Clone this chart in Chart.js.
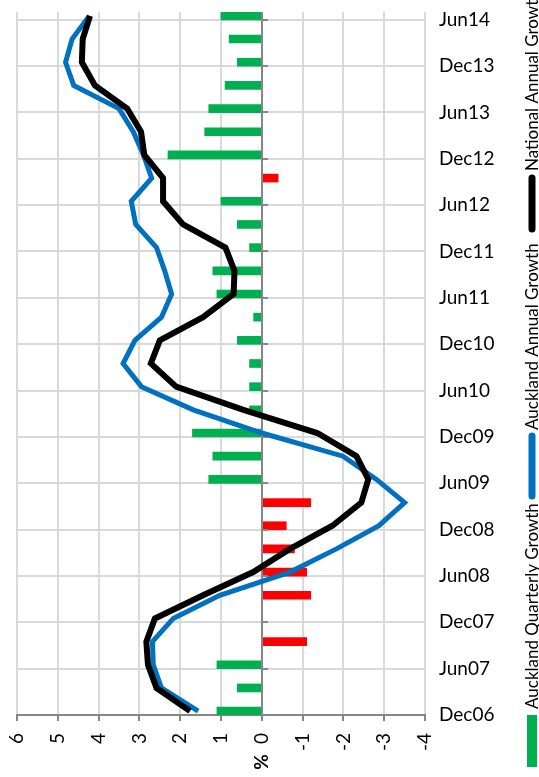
<!DOCTYPE html>
<html>
<head>
<meta charset="utf-8">
<script src="https://cdn.jsdelivr.net/npm/chart.js@4.4.1/dist/chart.umd.min.js"></script>
<style>
  html, body { margin: 0; padding: 0; background: #fff; }
  #chart1 { display: block; }
</style>
</head>
<body>
<canvas id="chart1" width="539" height="777"></canvas>
<script>
// quarterly data, Dec06 .. Jun14
const quarters = ['Dec06','Mar07','Jun07','Sep07','Dec07','Mar08','Jun08','Sep08','Dec08','Mar09',
  'Jun09','Sep09','Dec09','Mar10','Jun10','Sep10','Dec10','Mar11','Jun11','Sep11','Dec11','Mar12',
  'Jun12','Sep12','Dec12','Mar13','Jun13','Sep13','Dec13','Mar14','Jun14'];

const aucklandQuarterly = [1.1, 0.6, 1.1, -1.1, 0, -1.2, -1.1, -0.8, -0.6, -1.2,
  1.3, 1.2, 1.7, 0.3, 0.3, 0.3, 0.6, 0.2, 1.1, 1.2, 0.3, 0.6,
  1.0, -0.4, 2.3, 1.4, 1.3, 0.9, 0.6, 0.8, 1.0];

const aucklandAnnual = [1.56, 2.46, 2.66, 2.68, 2.17, 1.03, -0.69, -1.83, -2.87, -3.5,
  -2.81, -1.99, 0.0, 1.68, 2.95, 3.4, 3.11, 2.46, 2.21, 2.38, 2.58, 3.09,
  3.2, 2.7, 2.9, 3.15, 3.5, 4.61, 4.81, 4.65, 4.23];

const nationalAnnual = [1.76, 2.58, 2.79, 2.83, 2.62, 1.44, 0.21, -0.69, -1.73, -2.44,
  -2.61, -2.32, -1.36, 0.45, 2.1, 2.72, 2.5, 1.44, 0.69, 0.67, 0.89, 1.93,
  2.42, 2.42, 2.88, 2.96, 3.3, 4.09, 4.41, 4.39, 4.21];

// axis labels every six months
const dateLabels = ['Dec06','Jun07','Dec07','Jun08','Dec08','Jun09','Dec09','Jun10',
  'Dec10','Jun11','Dec11','Jun12','Dec12','Jun13','Dec13','Jun14'];

const seriesNames = ['Auckland Quarterly Growth', 'Auckland Annual Growth', 'National Annual Growth'];

const FONT = 'Lato, "Liberation Sans", sans-serif';

// date axis counted in months from Dec06, each quarter sits in the middle of its month
function monthOf(label) {
  const mon = {Mar: 3, Jun: 6, Sep: 9, Dec: 12}[label.slice(0, 3)];
  const yr = 2000 + parseInt(label.slice(3), 10);
  return (yr - 2006) * 12 + mon - 12;
}
const toPoints = vals => vals.map((v, i) => ({x: v, y: monthOf(quarters[i]) + 0.5}));

// zero axis with its tick marks sits on top of the bars but under the lines
const zeroAxis = {
  id: 'zeroAxis',
  afterDatasetDraw(chart, args) {
    if (args.meta.type !== 'bar') return;
    const {ctx, chartArea, scales: {x, y}} = chart;
    const x0 = Math.round(x.getPixelForValue(0));
    ctx.save();
    ctx.strokeStyle = '#868686';
    ctx.lineWidth = 2;
    ctx.beginPath();
    ctx.moveTo(x0, chartArea.top);
    ctx.lineTo(x0, chartArea.bottom);
    y.ticks.forEach(t => {
      const py = Math.round(y.getPixelForValue(t.value));
      ctx.moveTo(x0, py);
      ctx.lineTo(x0 + 6, py);
    });
    ctx.stroke();
    ctx.restore();
  },
  afterDraw(chart) {
    const {ctx, scales: {x}} = chart;
    ctx.save();
    // axis title, turned like the tick labels
    ctx.translate(x.getPixelForValue(0), 762);
    ctx.rotate(-Math.PI / 2);
    ctx.font = 'bold 19px ' + FONT;
    ctx.fillStyle = '#000';
    ctx.textAlign = 'center';
    ctx.textBaseline = 'middle';
    ctx.fillText('%', 0, 0);
    ctx.restore();
  }
};

// legend runs bottom to top along the right edge
const sideLegend = {
  id: 'sideLegend',
  afterDraw(chart) {
    const ctx = chart.ctx;
    const cx = 532;
    const items = [
      {name: seriesNames[0], kind: 'box', color: '#00B050', from: 767, to: 715, text: 709},
      {name: seriesNames[1], kind: 'line', color: '#0070C0', from: 496, to: 436, text: 430},
      {name: seriesNames[2], kind: 'line', color: '#000000', from: 229, to: 178, text: 171}
    ];
    ctx.save();
    items.forEach(it => {
      if (it.kind === 'box') {
        ctx.fillStyle = it.color;
        ctx.fillRect(cx - 5, it.to, 10, it.from - it.to);
      } else {
        ctx.strokeStyle = it.color;
        ctx.lineWidth = 7;
        ctx.lineCap = 'round';
        ctx.beginPath();
        ctx.moveTo(cx, it.from);
        ctx.lineTo(cx, it.to);
        ctx.stroke();
      }
      ctx.save();
      ctx.translate(cx, it.text);
      ctx.rotate(-Math.PI / 2);
      ctx.font = '17px ' + FONT;
      ctx.fillStyle = '#000';
      ctx.textAlign = 'left';
      ctx.textBaseline = 'middle';
      ctx.fillText(it.name, 0, 1);
      ctx.restore();
    });
    ctx.restore();
  }
};

const ctx = document.getElementById('chart1');

const myChart = new Chart(ctx, {
  type: 'bar',
  data: {
    datasets: [{
      type: 'line',
      label: seriesNames[2],
      data: toPoints(nationalAnnual),
      borderColor: '#000000',
      borderWidth: 6,
      pointRadius: 0,
      tension: 0,
      order: 1
    }, {
      type: 'line',
      label: seriesNames[1],
      data: toPoints(aucklandAnnual),
      borderColor: '#0070C0',
      borderWidth: 5,
      pointRadius: 0,
      tension: 0,
      order: 2
    }, {
      type: 'bar',
      label: seriesNames[0],
      data: toPoints(aucklandQuarterly),
      backgroundColor: aucklandQuarterly.map(v => v < 0 ? '#FF0000' : '#00B050'),
      barThickness: 8,
      order: 3
    }]
  },
  options: {
    indexAxis: 'y',
    responsive: false,
    animation: false,
    devicePixelRatio: 1,
    layout: { padding: { left: 17, top: 12, right: 0, bottom: 0 } },
    plugins: {
      legend: { display: false },
      tooltip: { enabled: false }
    },
    scales: {
      x: {
        type: 'linear',
        position: 'bottom',
        min: -4,
        max: 6,
        reverse: true,
        ticks: {
          stepSize: 1,
          minRotation: 90,
          maxRotation: 90,
          autoSkip: false,
          padding: 12,
          color: '#000',
          font: { family: FONT, size: 19 }
        },
        grid: {
          color: '#d9d9d9',
          lineWidth: 2,
          tickColor: '#868686',
          tickLength: 6
        },
        border: { display: true, color: '#868686', width: 2 },
        afterFit: scale => { scale.height = 62; }
      },
      y: {
        type: 'linear',
        position: 'right',
        offset: false,
        min: 0,
        max: monthOf('Jun14') + 1,
        afterBuildTicks: scale => {
          scale.ticks = dateLabels.map(l => ({ value: monthOf(l) }));
        },
        ticks: {
          padding: 14,
          color: '#000',
          font: { family: FONT, size: 19 },
          callback: value => dateLabels.find(l => monthOf(l) === value)
        },
        grid: {
          offset: false,
          color: c => c.tick && c.tick.value === 0 ? '#868686' : '#d9d9d9',
          lineWidth: 2,
          drawTicks: false
        },
        border: { display: false },
        afterFit: scale => {
          scale.width = 114;
          // labels never reach the ends of this axis, so it needs no extra room
          scale.paddingTop = 0;
          scale.paddingBottom = 0;
        }
      }
    }
  },
  plugins: [zeroAxis, sideLegend]
});
</script>
</body>
</html>
